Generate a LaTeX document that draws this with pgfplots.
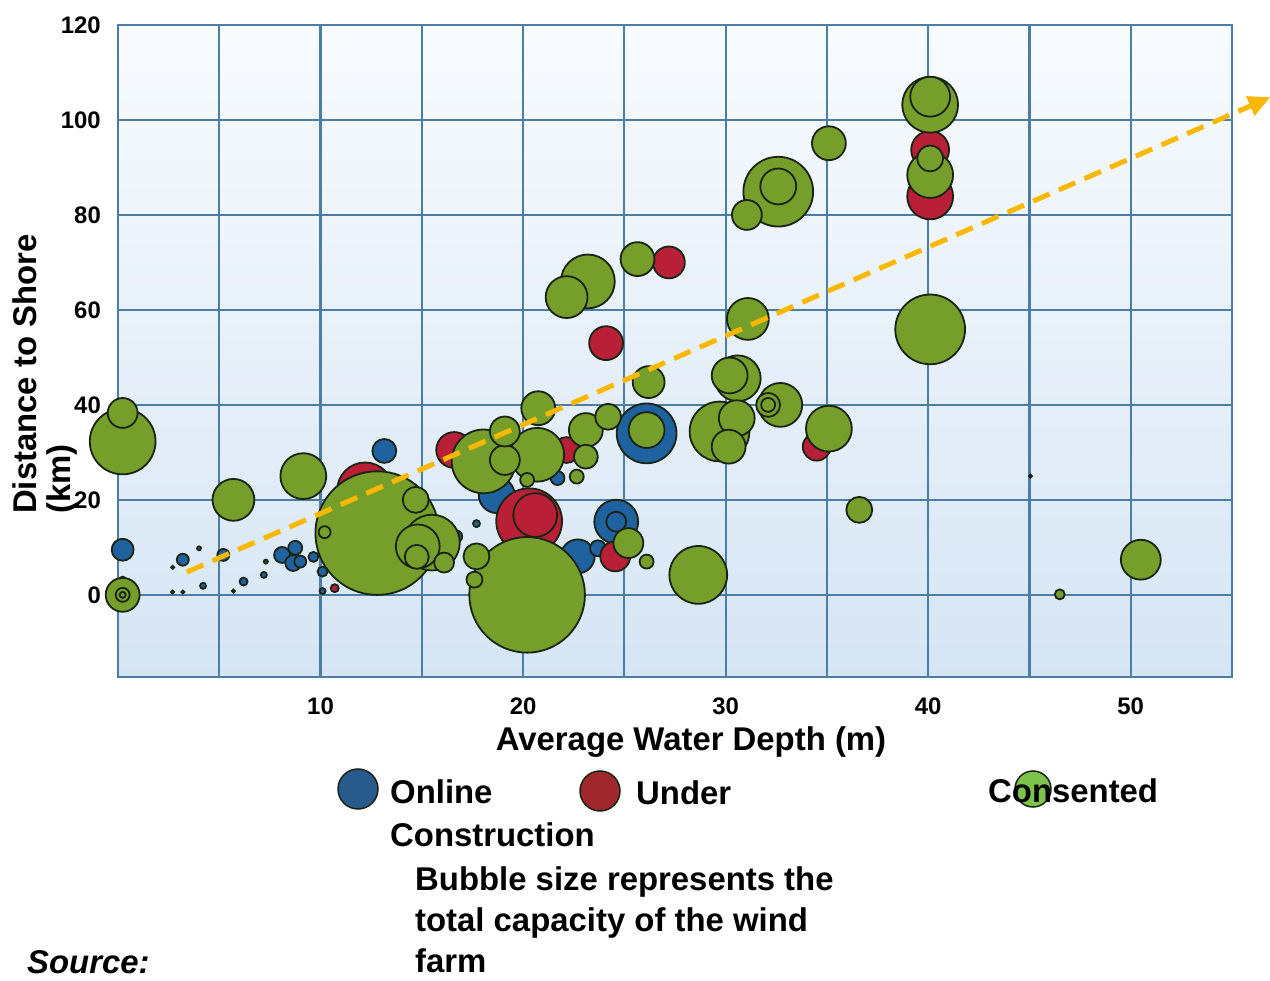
\documentclass[border=0pt]{standalone}
\usepackage{fontspec}
\setmainfont{Liberation Sans}
\usepackage{pgfplots}
\usepackage{pgfplotstable}
\pgfplotsset{compat=1.18}
\usetikzlibrary{arrows.meta}

\definecolor{bgreen}{RGB}{118,158,42}
\definecolor{bred}{RGB}{185,32,55}
\definecolor{bblue}{RGB}{30,98,160}
\definecolor{outl}{RGB}{25,35,20}
\definecolor{gridblue}{RGB}{75,125,165}
\definecolor{bgtop}{RGB}{248,251,254}
\definecolor{bgbot}{RGB}{214,229,244}
\definecolor{arrowc}{RGB}{250,185,0}
\definecolor{legblue}{RGB}{40,90,140}
\definecolor{legred}{RGB}{160,40,45}
\definecolor{leggreen}{RGB}{125,195,75}

% x = water depth (m), y = distance to shore (km), r = bubble radius (pt)
\pgfplotstableread{
x y r
26.1 34.0 30
24.6 15.4 22
18.7 21.0 18
22.7 8.1 17
13.15 30.3 12
0.23 9.5 11
24.6 15.4 10
8.1 8.4 8
8.65 6.7 8
23.7 9.8 8
8.75 9.9 7
21.7 24.6 7
3.2 7.4 6
5.2 8.4 6
9.0 7.0 6
16.7 12.3 6
9.65 8.0 5
10.1 4.9 5
6.2 2.8 4
17.7 15.0 3.5
0.23 3.2 3
4.2 1.9 3
7.2 4.2 3
10.1 0.8 3
4.0 9.8 2
7.3 7.0 2
2.7 0.6 1.5
3.2 0.6 1.5
5.7 0.8 1.5
2.7 5.8 1.5
45.05 25.0 1.5
}\onlinedata

\pgfplotstableread{
x y r
20.3 15.5 33
12.2 22.0 28
40.1 83.9 23
20.6 16.8 22
40.1 93.7 19
16.6 30.5 18
24.1 53.0 17
27.2 70.0 16
24.55 8.1 15
34.5 31.2 14
22.15 30.5 13
10.7 1.4 4
}\underdata

\pgfplotstableread{
x y r
12.8 13.0 62
20.2 0.0 58
32.6 84.9 35
40.1 55.9 35
0.23 32.3 33
18.05 28.1 32
29.7 34.4 30
28.65 4.2 29
15.5 11.0 28
40.1 103.2 28
20.7 29.5 27
23.2 66.0 27
9.15 25.0 23
30.6 45.6 23
35.1 35.0 23
40.1 88.4 23
14.8 10.2 22
32.7 40.0 22
22.15 62.7 21
5.7 20.0 21
31.1 58.1 21
40.1 104.9 20
50.5 7.4 20
32.6 86.0 18
26.1 34.7 18
30.55 37.2 18
30.2 46.2 18
0.23 0.0 17
35.1 95.1 17
25.65 70.7 17
20.75 39.3 17
23.1 34.7 17
30.15 31.2 17
26.2 44.8 16
19.1 28.4 15
19.1 34.4 15
31.05 80.0 15
25.2 10.9 15
0.23 38.3 15
14.7 20.0 13
40.1 91.9 13
36.6 17.9 13
24.2 37.5 13
17.7 8.1 13
14.75 8.0 12
23.1 29.1 12
32.1 40.0 12
16.1 6.8 10
17.6 3.2 8
32.1 40.0 7
0.23 0.0 7
20.2 24.2 7
22.65 24.9 7
26.1 7.0 7
10.2 13.2 6
46.5 0.1 5
0.23 0.0 3
}\consenteddata

\pgfplotsset{
  bubble/.style={
    scatter, only marks, mark=*,
    scatter/use mapped color={draw=outl, fill=#1},
    mark options={line width=1.8bp},
    visualization depends on={\thisrow{r}\as\rad},
    scatter/@pre marker code/.append style={/tikz/mark size=\rad},
  },
}

\newcommand{\bigbf}{\fontsize{33}{35}\selectfont\bfseries}

\begin{document}
\begin{tikzpicture}
\path[use as bounding box] (0,0) rectangle (1270bp,981bp);
\begin{axis}[
  at={(118bp,304bp)}, anchor=south west,
  scale only axis, width=1114bp, height=652bp,
  xmin=0, xmax=55, ymin=-17.3, ymax=120,
  clip=false, clip marker paths=true,
  axis background/.style={top color=bgtop, bottom color=bgbot},
  grid=major,
  major grid style={gridblue, line width=2.2bp},
  axis line style={gridblue, line width=2.2bp},
  major tick length=0pt,
  xtick={0,5,...,55},
  xticklabels={,,10,,20,,30,,40,,50,},
  ytick={0,20,...,120},
  ticklabel style={font=\fontsize{24}{28}\selectfont\bfseries, inner sep=0pt},
  xticklabel style={anchor=north, yshift=-21bp},
  yticklabel style={anchor=east, xshift=-17bp},
  /pgf/number format/assume math mode=true,
  xlabel={Average Water Depth (m)},
  xlabel style={font=\bigbf, inner sep=0pt, anchor=center,
    at={(axis description cs:0.5144,-0.0997)}},
  ylabel={Distance to Shore\\(km)},
  ylabel style={font=\bigbf, inner sep=0pt, anchor=center, align=left,
    at={(axis description cs:-0.0655,0.4647)}},
]
\addplot[bubble=bblue] table[x=x, y=y] {\onlinedata};
\addplot[bubble=bred] table[x=x, y=y] {\underdata};
\addplot[bubble=bgreen] table[x=x, y=y] {\consenteddata};
\addplot[arrowc, line width=5bp, dash pattern=on 18bp off 10bp,
  -{Triangle[length=22bp, width=20bp]}]
  coordinates {(3.4,4.8) (56.9,104.8)};
\end{axis}

% legend
\draw[outl, line width=1.5bp, fill=legblue] (358bp,192bp) circle (20bp);
\draw[outl, line width=1.5bp, fill=legred] (600bp,190bp) circle (20bp);
\draw[outl, line width=1.5bp, fill=leggreen] (1033bp,192bp) circle (18bp);
\node[font=\bigbf, inner sep=0pt, anchor=base west] at (390bp,177bp) {Online};
\node[font=\bigbf, inner sep=0pt, anchor=base west] at (390bp,134bp) {Construction};
\node[font=\bigbf, inner sep=0pt, anchor=base west] at (636bp,176bp) {Under};
\node[font=\bigbf, inner sep=0pt, anchor=base west] at (988bp,178bp) {Consented};
\node[font=\bigbf, inner sep=0pt, anchor=base west] at (415bp,90bp) {Bubble size represents the};
\node[font=\bigbf, inner sep=0pt, anchor=base west] at (415bp,49bp) {total capacity of the wind};
\node[font=\bigbf, inner sep=0pt, anchor=base west] at (415bp,9bp) {farm};
\node[font=\bigbf\itshape, inner sep=0pt, anchor=base west] at (27bp,8bp) {Source:};
\end{tikzpicture}
\end{document}
